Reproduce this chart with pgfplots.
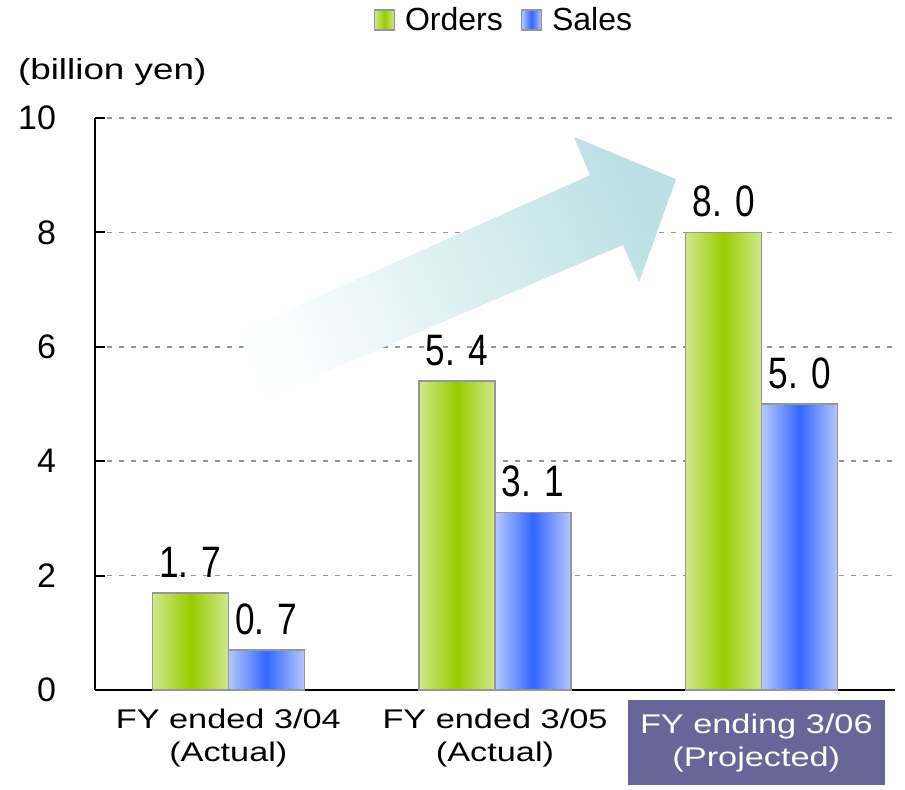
\documentclass[border=0pt]{standalone}
\usepackage{pgfplots}
\pgfplotsset{compat=1.18}
\usepackage{fontspec}
\setmainfont{Liberation Sans}
\newfontfamily\stretchfont[FakeStretch=1.27]{Liberation Sans}
\newfontfamily\labelfont[FakeStretch=0.8]{Liberation Sans}
\definecolor{gL}{RGB}{208,232,140}
\definecolor{gD}{RGB}{153,204,0}
\definecolor{bL}{RGB}{182,200,255}
\definecolor{bD}{RGB}{51,102,255}
\definecolor{barGray}{RGB}{150,150,150}
\definecolor{gridGray}{RGB}{150,150,150}
\definecolor{slate}{RGB}{102,102,153}
\definecolor{arrowHead}{RGB}{188,224,228}
\definecolor{arrowTail}{RGB}{253,254,254}
\pgfdeclarehorizontalshading{greenbar}{100bp}{color(0bp)=(gL); color(25bp)=(gL); color(50bp)=(gD); color(75bp)=(gL); color(100bp)=(gL)}
\pgfdeclarehorizontalshading{bluebar}{100bp}{color(0bp)=(bL); color(25bp)=(bL); color(50bp)=(bD); color(75bp)=(bL); color(100bp)=(bL)}
\pgfplotsset{
  ordersbar/.style={draw=barGray, line width=0.8pt, shade, shading=greenbar, bar shift=-19pt},
  salesbar/.style={draw=barGray, line width=0.8pt, shade, shading=bluebar, bar shift=19pt},
}
\begin{document}
\begin{tikzpicture}
\begin{axis}[
  scale only axis,
  width=400pt, height=286pt,
  xmin=-0.5, xmax=2.5,
  ymin=0, ymax=10,
  ytick={0,2,4,6,8,10},
  xtick={0,1,2},
  xticklabels={{FY ended 3/04\\(Actual)},{FY ended 3/05\\(Actual)},{}},
  extra x ticks={0.5,1.5,2.5},
  extra x tick labels={},
  extra x tick style={major tick length=5pt, tick align=inside, xmajorgrids=false},
  major x tick style={draw=none},
  axis x line*=bottom,
  axis y line*=left,
  axis line style={black, line width=1pt},
  tick align=inside,
  major tick length=5pt,
  major tick style={black, line width=1pt},
  ymajorgrids=true,
  grid style={gridGray, line width=0.8pt, dash pattern=on 2.5pt off 3.5pt},
  /pgf/number format/assume math mode=true,
  tick label style={font=\fontsize{17}{20}\selectfont},
  yticklabel style={anchor=east, xshift=-16pt},
  xticklabel style={font=\stretchfont\fontsize{13.5}{16.2}\selectfont, align=center, yshift=-1pt},
  ybar=0pt,
  bar width=38pt,
  clip=false,
  legend columns=2,
  legend style={draw=none, at={(axis description cs:0.5125,1.1713)}, anchor=center,
    font=\fontsize{16}{19}\selectfont, column sep=3pt,
    /tikz/every even column/.append style={column sep=7pt}},
  legend image code/.code={\draw[#1, draw=barGray, line width=0.6pt] (0pt,-5pt) rectangle (10pt,5pt);},
  nodes near coords={\pgfmathprintnumber[fixed, fixed zerofill, precision=1, dec sep={.\hspace{0.3em}}, assume math mode=true]{\pgfplotspointmeta}},
  nodes near coords style={font=\labelfont\fontsize{22}{24}\selectfont, anchor=south, yshift=4pt, text=black},
]
\shade[bottom color=arrowTail, top color=arrowHead, shading angle=-66]
  (axis cs:0.0325,6.24) -- (axis cs:1.356,9.00) -- (axis cs:1.296,9.67) -- (axis cs:1.679,8.93)
  -- (axis cs:1.540,7.13) -- (axis cs:1.480,7.78) -- (axis cs:0.145,5.12) -- cycle;
% FY ended 3/04
\addplot[ordersbar] coordinates {(0,1.7)};
\addlegendentry{Orders}
\addplot[salesbar] coordinates {(0,0.7)};
\addlegendentry{Sales}
% FY ended 3/05
\addplot[ordersbar, forget plot] coordinates {(1,5.4)};
\addplot[salesbar, forget plot] coordinates {(1,3.1)};
% FY ending 3/06
\addplot[ordersbar, forget plot] coordinates {(2,8.0)};
\addplot[salesbar, forget plot] coordinates {(2,5.0)};
\node[fill=slate, text=white, align=center, minimum width=128.5pt, minimum height=42.5pt,
  anchor=north, inner sep=0pt, font=\stretchfont\fontsize{13.5}{16.2}\selectfont]
  at (axis cs:1.98,0) [yshift=-5pt] {FY ending 3/06\\(Projected)};
\node[anchor=west, font=\stretchfont\fontsize{14.5}{16}\selectfont]
  at (rel axis cs:0,1) [xshift=-42pt, yshift=23pt] {(billion yen)};
\end{axis}
\pgfresetboundingbox
\path[use as bounding box] (-47.5pt,-50pt) rectangle (405pt,345pt);
\end{tikzpicture}
\end{document}
